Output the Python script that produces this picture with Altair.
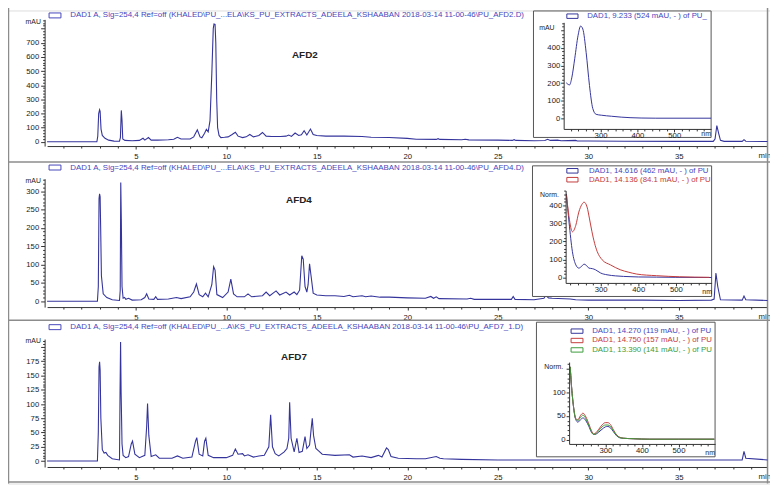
import altair as alt
import pandas as pd

# ---------------- data ----------------
afd2_time = [0.1, 2.85, 2.9, 2.95, 3.0, 3.03, 3.08, 3.15, 3.3, 3.5, 3.8, 4.1, 4.15, 4.2, 4.24, 4.28, 4.4, 4.8, 5.2,
             5.4, 5.5, 5.7, 5.85, 6.2, 6.8, 7.1, 7.3, 7.5, 8.0, 8.2, 8.4, 8.55, 8.65, 8.8, 8.9, 9.0, 9.1, 9.2, 9.28,
             9.32, 9.38, 9.42, 9.47, 9.52, 9.6, 9.7, 9.9, 10.1, 10.3, 10.5, 10.65, 10.9, 11.1, 11.3, 11.5, 11.8, 12.0,
             12.2, 12.5, 13.0, 13.3, 13.45, 13.6, 13.8, 14.0, 14.15, 14.3, 14.45, 14.65, 14.8, 15.0, 15.5, 16.5,
             17.5, 18.0, 19.0, 20.0, 20.5, 21.6, 21.7, 21.8, 23.0, 23.2, 23.4, 25.0, 25.8, 25.9, 26.0, 27.0, 27.6,
             27.75, 27.9, 28.3, 28.5, 29.3, 29.4, 30.0, 32.0, 35.0, 36.9, 37.0, 37.1, 37.2, 37.3, 37.5, 38.5, 38.6,
             38.7, 39.9]
afd2_mau = [0, 0, 40, 200, 227, 215, 90, 45, 25, 12, 5, 4, 30, 222, 150, 20, 10, 8, 10,
            25, 12, 30, 12, 12, 15, 18, 32, 20, 20, 35, 85, 35, 28, 60, 88, 70, 150, 480, 800,
            833, 830, 700, 300, 100, 45, 30, 32, 35, 50, 68, 40, 30, 35, 52, 35, 45, 66,
            40, 38, 38, 40, 48, 38, 62, 45, 50, 78, 48, 90, 52, 45, 40, 40,
            38, 32, 30, 24, 18, 17, 22, 17, 15, 18, 14, 12, 10, 15, 10, 8, 9,
            18, 10, 12, 8, 10, 6, 6, 4, 3, 3, 20, 115, 60, 10, 3, 3, 15,
            4, 2]

afd4_time = [0.1, 2.88, 2.93, 2.97, 3.0, 3.03, 3.06, 3.1, 3.2, 3.4, 3.7, 4.1, 4.14, 4.17, 4.2, 4.24, 4.3, 4.38,
             4.45, 4.6, 4.8, 5.3, 5.5, 5.6, 5.72, 6.0, 6.1, 6.2, 6.8, 7.25, 7.5, 8.0, 8.2, 8.35, 8.5, 8.7, 8.85,
             9.0, 9.2, 9.3, 9.38, 9.48, 9.8, 10.1, 10.25, 10.4, 10.6, 11.0, 11.2, 11.4, 12.0, 12.2, 12.4, 12.75,
             12.95, 13.3, 13.5, 13.75, 13.9, 14.05, 14.17, 14.25, 14.35, 14.45, 14.52, 14.6, 14.68, 14.8, 15.0,
             15.5, 16.0, 16.5, 16.8, 17.0, 17.5, 17.7, 18.0, 18.5, 19.0, 20.0, 21.0, 21.3, 21.45, 21.6, 21.75,
             23.3, 23.5, 23.7, 25.0, 25.75, 25.85, 25.95, 27.0, 27.55, 27.65, 27.8, 28.0, 29.0, 29.3, 30.0, 33.0,
             35.0, 36.8, 36.95, 37.05, 37.15, 37.3, 38.5, 38.6, 38.7, 39.9]
afd4_mau = [0, 0, 40, 280, 293, 285, 200, 70, 20, 10, 4, 2, 30, 324, 225, 40, 8, 10,
            5, 8, 3, 4, 10, 20, 6, 5, 12, 5, 6, 10, 7, 12, 25, 47, 18, 12, 22,
            12, 45, 94, 85, 18, 10, 25, 60, 20, 12, 12, 20, 12, 15, 25, 15, 28,
            17, 25, 17, 25, 18, 30, 124, 115, 40, 25, 45, 102, 70, 22, 17,
            15, 15, 13, 16, 12, 15, 12, 14, 11, 11, 9, 8, 13, 8, 12, 7,
            6, 8, 5, 5, 5, 13, 5, 4, 8, 16, 9, 8, 6, 4, 3, 3,
            2, 3, 6, 77, 40, 4, 3, 14, 4, 2]

afd7_time = [0.1, 2.88, 2.93, 2.97, 3.0, 3.03, 3.07, 3.15, 3.25, 3.35, 3.45, 3.7, 4.1, 4.13, 4.16, 4.19, 4.24,
             4.3, 4.45, 4.6, 4.75, 4.82, 4.95, 5.2, 5.5, 5.6, 5.65, 5.72, 5.85, 6.1, 6.3, 7.0, 7.3, 7.6, 8.1,
             8.3, 8.37, 8.5, 8.7, 8.8, 8.87, 9.0, 9.3, 10.0, 10.35, 10.5, 10.65, 10.9, 11.0, 11.2, 11.5, 11.8,
             12.1, 12.35, 12.45, 12.55, 12.7, 12.9, 13.2, 13.35, 13.45, 13.5, 13.58, 13.75, 13.9, 14.02, 14.2,
             14.35, 14.45, 14.6, 14.7, 14.75, 14.82, 14.95, 15.1, 15.3, 16.0, 16.8, 17.0, 17.5, 18.0, 18.4,
             18.6, 18.85, 18.95, 19.1, 19.5, 20.5, 21.0, 21.6, 21.8, 22.0, 23.0, 25.0, 30.0, 35.0, 38.5, 38.6,
             38.7, 39.9]
afd7_mau = [0, 0, 50, 165, 174, 160, 75, 20, 14, 15, 10, 4, 2, 120, 209, 120, 30,
            10, 6, 8, 30, 35, 12, 6, 10, 60, 101, 45, 8, 11, 5, 5, 9, 5, 7,
            35, 41, 12, 9, 35, 40, 10, 6, 6, 10, 21, 12, 13, 9, 11, 7, 9,
            10, 25, 81, 25, 13, 9, 16, 22, 40, 103, 40, 16, 40, 15, 17,
            43, 22, 28, 60, 75, 45, 22, 18, 12, 10, 11, 7, 9, 6, 10,
            7, 23, 20, 8, 5, 4, 4, 8, 5, 4, 3, 2, 2, 2, 2, 17,
            5, 2]

# inset UV spectra
spec1_nm = [207, 212, 216, 222, 230, 239, 246, 252, 261, 270, 279, 288, 302, 330, 356, 380, 410, 450, 600]
spec1_mau = [202, 193, 190, 230, 339, 470, 524, 507, 374, 187, 56, 23, 18, 12, 7, 4, 2, 1, 1]

spec2_blue_nm = [209, 216, 225, 234, 242, 249, 256, 262, 269, 278, 286, 293, 300, 317, 340, 361, 400, 448, 500, 595]
spec2_blue = [464, 308, 144, 71, 53, 62, 75, 68, 53, 50, 44, 35, 26, 16, 10, 7, 4, 3, 2, 1]
spec2_red_nm = [209, 216, 225, 234, 242, 250, 256, 264, 270, 277, 284, 291, 304, 326, 352, 375, 396, 449, 510, 589]
spec2_red = [460, 336, 254, 290, 363, 405, 418, 391, 330, 254, 190, 144, 99, 71, 44, 30, 20, 11, 5, 2]

spec3_nm = [204, 207, 213, 219, 225, 232, 239, 247, 255, 262, 268, 275, 282, 291, 300, 307, 314, 322, 331, 340,
            350, 376, 420, 500, 598]
spec3_blue = [154, 119, 70, 43, 37, 42, 46, 40, 28, 16, 11, 12, 16, 22, 27, 28, 25, 17, 8, 4, 3, 2, 1, 1, 1]
spec3_red = [154, 119, 70, 45, 42, 51, 56, 48, 33, 19, 12, 15, 22, 31, 36, 36, 32, 21, 10, 5, 3, 2, 1, 1, 1]
spec3_green = [154, 119, 70, 44, 40, 47, 52, 44, 30, 17, 11, 13, 19, 27, 31, 31, 28, 19, 9, 4, 3, 2, 1, 1, 1]

headers = [
    r"DAD1 A, Sig=254,4 Ref=off (KHALED\PU_...ELA\KS_PU_EXTRACTS_ADEELA_KSHAABAN 2018-03-14 11-00-46\PU_AFD2.D)",
    r"DAD1 A, Sig=254,4 Ref=off (KHALED\PU_...ELA\KS_PU_EXTRACTS_ADEELA_KSHAABAN 2018-03-14 11-00-46\PU_AFD4.D)",
    r"DAD1 A, Sig=254,4 Ref=off (KHALED\PU_...A\KS_PU_EXTRACTS_ADEELA_KSHAABAN 2018-03-14 11-00-46\PU_AFD7_1.D)",
]
sample_labels = ["AFD2", "AFD4", "AFD7"]
legend1 = ["DAD1, 9.233 (524 mAU, - ) of PU_"]
legend2 = ["DAD1, 14.616 (462 mAU, - ) of PU", "DAD1, 14.136 (84.1 mAU, - ) of PU"]
legend3 = ["DAD1, 14.270 (119 mAU, - ) of PU", "DAD1, 14.750 (157 mAU, - ) of PU",
           "DAD1, 13.390 (141 mAU, - ) of PU"]

# ---------------- style / layout ----------------
W, H = 770, 478
M = 8
FONT = "Liberation Sans"
NAVY = "#34349c"
HEAD = "#4646bc"
RED = "#c43c3c"
GREEN = "#3c9c3c"
FRAME = "#8c8c8c"
AX = "#333333"
LBL = "#222222"
FS = 7.8
HFS = 8.0
LFS = 7.9

def X(p):
    return p - M

def Y(p):
    return p - M

dummy = pd.DataFrame({"d": [0]})

def text(s, x, y, color=LBL, size=FS, align="left", weight="normal", limit=None):
    kw = dict(align=align, baseline="middle", fontSize=size, font=FONT, color=color, fontWeight=weight)
    if limit:
        kw.update(limit=limit, ellipsis=" ")
    return alt.Chart(dummy).mark_text(**kw).encode(
        x=alt.value(X(x)), y=alt.value(Y(y)), text=alt.value(s))

def box(x0, x1, y0, y1, stroke, fill="white", sw=1.0, fill_opacity=1.0):
    return alt.Chart(dummy).mark_rect(stroke=stroke, strokeWidth=sw, fill=fill, fillOpacity=fill_opacity).encode(
        x=alt.value(X(x0)), x2=alt.value(X(x1)), y=alt.value(Y(y0)), y2=alt.value(Y(y1)))

def rule(x0, x1, y0, y1, color=FRAME, sw=1.5):
    return alt.Chart(dummy).mark_rule(color=color, strokeWidth=sw).encode(
        x=alt.value(X(x0)), x2=alt.value(X(x1)), y=alt.value(Y(y0)), y2=alt.value(Y(y1)))

def sc(dom, rng):
    return alt.Scale(domain=dom, range=rng, nice=False, zero=False)

def common_axis(**kw):
    base = dict(grid=False, domainColor=AX, tickColor=AX, labelColor=LBL, labelFont=FONT,
                labelFontSize=FS, labelFlush=False, labelOverlap=False, labelBound=False,
                titleFont=FONT, titleFontSize=7, titleFontWeight="normal", titleColor=LBL,
                titleAngle=0, titleAlign="center", titleBaseline="middle", domainWidth=1, tickWidth=1)
    base.update(kw)
    return alt.Axis(**base)

def chrom(time, mau, ydom, ypx, xaxis_y, yaxis_x, major, minor, label_max, mau_pos, min_pos):
    df = pd.DataFrame({"t": time, "v": mau})
    xax = common_axis(
        orient="bottom", offset=Y(xaxis_y) - H, values=list(range(1, 40)),
        labelExpr="datum.value % 5 === 0 ? datum.label : ''",
        tickSize={"condition": {"test": "datum.value % 5 === 0", "value": 3}, "value": 2},
        labelPadding=4, title="min", titleX=X(min_pos[0]), titleY=min_pos[1] - xaxis_y,
        titleAlign="left", titleFontSize=FS)
    yvals = list(range(0, int(ydom[1]) + 1, minor))
    yax = common_axis(
        orient="left", offset=-X(yaxis_x), values=yvals,
        labelExpr=f"(datum.value % {major} === 0 && datum.value <= {label_max}) ? datum.label : ''",
        tickSize={"condition": {"test": f"datum.value % {major} === 0", "value": 4}, "value": 2},
        labelPadding=2, title="mAU", titleX=mau_pos[0] - yaxis_x, titleY=Y(mau_pos[1]))
    return alt.Chart(df).mark_line(color=NAVY, strokeWidth=1.1, clip=False).encode(
        x=alt.X("t:Q", scale=sc([0.1, 39.9], [X(47.5), X(775.5)]), axis=xax),
        y=alt.Y("v:Q", scale=sc(ydom, [Y(ypx[0]), Y(ypx[1])]), axis=yax),
    )

def inset(df, xdom, xpx, ydom, ypx, ymajor, yminor, ylabel_max, ytitle, ytitle_pos, nm_pos, domain, colors):
    xax = common_axis(
        orient="bottom", offset=Y(ypx[0]) - H, values=list(range(220, 600, 20)),
        labelExpr="(datum.value === 300 || datum.value === 400 || datum.value === 500) ? datum.label : ''",
        tickSize={"condition": {"test": "datum.value % 100 === 0", "value": 3}, "value": 2},
        labelPadding=0, title="nm", titleX=X(nm_pos[0]), titleY=nm_pos[1] - ypx[0], zindex=1)
    yax = common_axis(
        orient="left", offset=-X(xpx[0]), values=list(range(0, int(ydom[1]) + 1, yminor)),
        labelExpr=f"(datum.value % {ymajor} === 0 && datum.value <= {ylabel_max}) ? datum.label : ''",
        tickSize={"condition": {"test": f"datum.value % {ymajor} === 0", "value": 3}, "value": 2},
        labelPadding=1, title=ytitle, titleX=ytitle_pos[0] - xpx[0], titleY=Y(ytitle_pos[1]), zindex=1)
    return alt.Chart(df).mark_line(strokeWidth=1, clip=False, interpolate="monotone").encode(
        x=alt.X("nm:Q", scale=sc(xdom, [X(xpx[0]), X(xpx[1])]), axis=xax),
        y=alt.Y("v:Q", scale=sc(ydom, [Y(ypx[0]), Y(ypx[1])]), axis=yax),
        color=alt.Color("s:N", scale=alt.Scale(domain=domain, range=colors), legend=None),
        detail="s:N",
    )

def long(pairs):
    frames = []
    for name, nm, vals in pairs:
        frames.append(pd.DataFrame({"nm": nm, "v": vals, "s": name}))
    return pd.concat(frames, ignore_index=True)

layers = []

# panel frames
layers += [
    rule(0.5 + M, 0.5 + M, 0, 486),
    rule(775.5, 775.5, 0, 486),
    rule(0, 778, 161, 161),
    rule(0, 778, 321, 321),
    rule(0, 778, 484.5, 484.5),
]

# headers (legend box + text)
head_y = [13, 166.7, 328]
for i, hy in enumerate(head_y):
    layers.append(box(49.5, 61.5, hy - 2.5, hy + 2.5, HEAD, fill="white", fill_opacity=0))
    layers.append(text(headers[i], 71, hy, color=HEAD, size=HFS))

# main chromatograms
layers.append(chrom(afd2_time, afd2_mau, [-30, 865], [145, 17], 145, 45, 100, 20, 700, (33, 19), (766, 155)))
layers.append(chrom(afd4_time, afd4_mau, [-16, 334], [307.7, 178], 307.7, 45, 50, 10, 300, (33, 180), (766, 317)))
layers.append(chrom(afd7_time, afd7_mau, [-10.4, 214], [469.3, 340], 469.3, 45, 25, 5, 175, (33, 341.7), (766, 479)))

# sample labels
layers.append(text(sample_labels[0], 308, 53, size=10, align="center", weight="bold"))
layers.append(text(sample_labels[1], 302, 200, size=10, align="center", weight="bold"))
layers.append(text(sample_labels[2], 297, 358.5, size=10, align="center", weight="bold"))

# inset frames
layers.append(box(539, 718.5, 8.5, 136.3, "#555555"))
layers.append(box(538, 719, 165, 297, "#555555"))
layers.append(box(542, 722.5, 323, 459, "#555555"))

# inset 1
df1 = long([("a", spec1_nm, spec1_mau)])
layers.append(inset(df1, [200, 600], [569.5, 718.5], [-60, 545], [127.7, 20], 100, 20, 400, "mAU", (552, 25),
                    (713, 132), ["a"], [NAVY]))
layers.append(box(572.7, 584, 11.5, 16, NAVY, fill_opacity=0))
layers.append(text(legend1[0], 593.3, 14, color=HEAD, size=LFS, limit=126))

# inset 2
df2 = long([("b", spec2_blue_nm, spec2_blue), ("r", spec2_red_nm, spec2_red)])
layers.append(inset(df2, [207, 595], [571.5, 719], [-29, 482], [283.3, 190], 100, 20, 400, "Norm.", (554.7, 194),
                    (714, 291.7), ["b", "r"], [NAVY, RED]))
layers.append(box(572.7, 584, 167.7, 172.3, NAVY, fill_opacity=0))
layers.append(text(legend2[0], 595, 170, color=HEAD, size=LFS, limit=125))
layers.append(box(572.7, 584, 176.7, 181.3, RED, fill_opacity=0))
layers.append(text(legend2[1], 595, 179, color=RED, size=LFS, limit=125))

# inset 3
df3 = long([("b", spec3_nm, spec3_blue), ("r", spec3_nm, spec3_red), ("g", spec3_nm, spec3_green)])
layers.append(inset(df3, [201, 600], [575, 722.5], [-9, 164], [446, 363.3], 50, 10, 100, "Norm.", (559, 367.3),
                    (717, 454.3), ["b", "r", "g"], [NAVY, RED, GREEN]))
leg3_y = [332, 341.5, 351]
leg3_c = [NAVY, RED, GREEN]
for i in range(3):
    layers.append(box(577, 589, leg3_y[i] - 2.2, leg3_y[i] + 2.2, leg3_c[i], fill_opacity=0))
    layers.append(text(legend3[i], 598.3, leg3_y[i], color=leg3_c[i] if i else HEAD, size=LFS, limit=125))

chart = alt.layer(*layers).resolve_scale(
    x="independent", y="independent", color="independent"
).properties(
    width=W, height=H, autosize=alt.AutoSizeParams(type="none"), padding=0
).configure_view(strokeOpacity=0).configure(background="white")

chart.save("out.html", embed_options={"renderer": "svg", "actions": False})
